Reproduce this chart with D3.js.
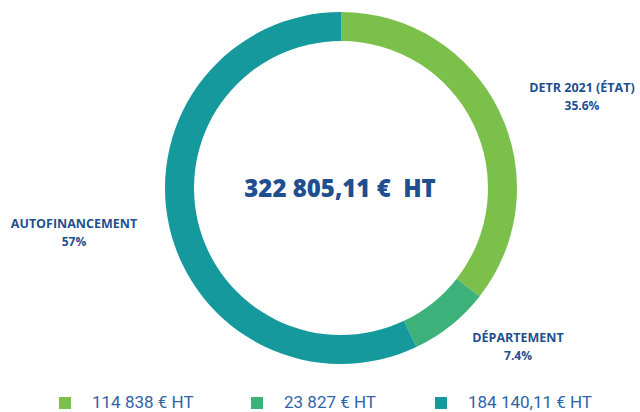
<!DOCTYPE html>
<html>
<head>
<meta charset="utf-8">
<script src="https://cdn.jsdelivr.net/npm/d3@7"></script>
<style>
  body { margin: 0; background: #fff; }
  svg { display: block; }
</style>
</head>
<body>
<svg id="chart" width="640" height="412"></svg>
<script>
// parts of the financing, clockwise from the top
var labels = ["DETR 2021 (ÉTAT)", "DÉPARTEMENT", "AUTOFINANCEMENT"];
var amounts = [114838, 23827, 184140.11];
var percents = ["35.6%", "7.4%", "57%"];
var legendLabels = ["114 838 € HT", "23 827 € HT", "184 140,11 € HT"];
var total = "322 805,11 €\u00a0 HT";

var svg = d3.select("#chart"),
  cx = 341, cy = 188,
  outer = 176, inner = 147;

var color = d3.scaleOrdinal()
  .domain(labels)
  .range(["#7cc04c", "#3cb17a", "#15999c"]);

var pie = d3.pie().sort(null).value((d) => d.v);
var arc = d3.arc().innerRadius(inner).outerRadius(outer);

var data = labels.map((l, i) => ({ k: l, v: amounts[i] }));

var g = svg.append("g").attr("transform", `translate(${cx},${cy})`);

g.selectAll("path")
  .data(pie(data))
  .enter()
  .append("path")
  .attr("d", arc)
  .attr("fill", (d) => color(d.data.k));

g.append("text")
  .attr("x", -1)
  .attr("y", 9)
  .attr("text-anchor", "middle")
  .style("font-family", "'Open Sans', sans-serif")
  .style("font-weight", 800)
  .style("font-size", "24px")
  .attr("fill", "#1f4f8f")
  .text(total);

// outside labels
var labelPos = [[582, 92], [518, 342], [74, 228]];
var lab = svg.selectAll("g.lab")
  .data(labels)
  .enter()
  .append("g")
  .attr("class", "lab")
  .attr("transform", (d, i) => `translate(${labelPos[i][0]},${labelPos[i][1]})`)
  .attr("text-anchor", "middle")
  .style("font-family", "'Open Sans', sans-serif")
  .style("font-weight", 700)
  .attr("fill", "#1f4f8f");

lab.append("text")
  .style("font-size", "12.5px")
  .text((d) => d);

lab.append("text")
  .attr("y", 18)
  .style("font-size", "12px")
  .text((d, i) => percents[i]);

// legend
var legendX = [59, 251, 435];
var leg = svg.selectAll("g.leg")
  .data(labels)
  .enter()
  .append("g")
  .attr("class", "leg")
  .attr("transform", (d, i) => `translate(${legendX[i]},397)`);

leg.append("rect")
  .attr("width", 12)
  .attr("height", 12)
  .attr("fill", (d) => color(d));

leg.append("text")
  .attr("x", 33)
  .attr("y", 10.5)
  .style("font-family", "Roboto, sans-serif")
  .style("font-size", "17px")
  .attr("fill", "#2f64a8")
  .text((d, i) => legendLabels[i]);
</script>
</body>
</html>
